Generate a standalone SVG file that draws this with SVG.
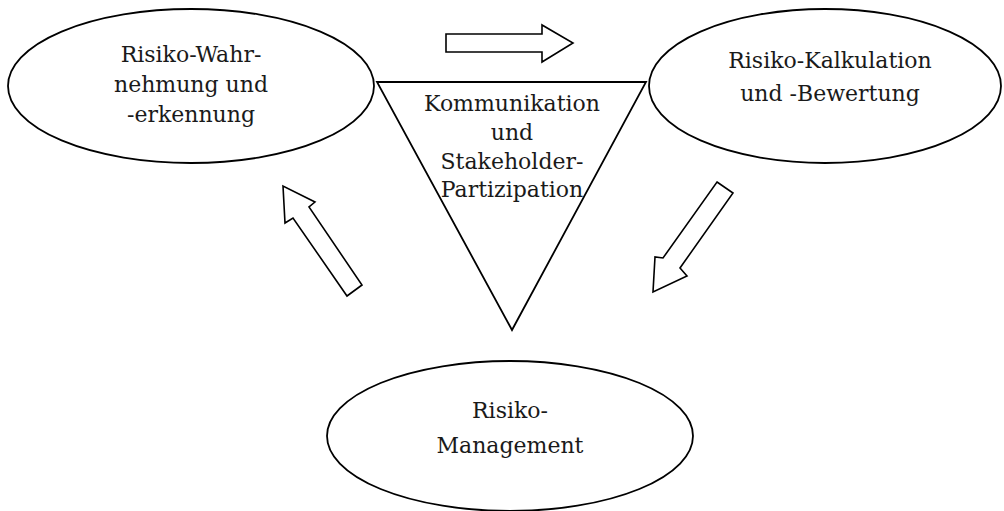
<svg xmlns="http://www.w3.org/2000/svg" width="1004" height="511" viewBox="0 0 1004 511">
  <style>
    .shape { fill: #ffffff; stroke: #000000; stroke-width: 1.8; stroke-linejoin: miter; }
    .arrow { fill: #ffffff; stroke: #000000; stroke-width: 1.6; stroke-linejoin: miter; }
    .label { font-family: "DejaVu Serif", "Liberation Serif", serif; font-size: 22px; fill: #1a1a1a; text-anchor: middle; }
  </style>
  <rect width="1004" height="511" fill="#ffffff"/>

  <!-- central triangle -->
  <g id="kommunikation">
    <polygon class="shape" points="377,82 646,82 512,330"/>
    <text class="label" x="512" y="111">Kommunikation</text>
    <text class="label" x="512" y="140">und</text>
    <text class="label" x="512" y="169">Stakeholder-</text>
    <text class="label" x="512" y="197">Partizipation</text>
  </g>

  <g id="wahrnehmung">
    <ellipse class="shape" cx="191" cy="86" rx="183" ry="77"/>
    <text class="label" x="191" y="62">Risiko-Wahr-</text>
    <text class="label" x="191" y="92">nehmung und</text>
    <text class="label" x="191" y="122">-erkennung</text>
  </g>

  <g id="kalkulation">
    <ellipse class="shape" cx="825" cy="86" rx="176" ry="77"/>
    <text class="label" x="830" y="68">Risiko-Kalkulation</text>
    <text class="label" x="830" y="101">und -Bewertung</text>
  </g>

  <g id="management">
    <ellipse class="shape" cx="510" cy="436" rx="183" ry="75"/>
    <text class="label" x="510" y="418">Risiko-</text>
    <text class="label" x="510" y="453">Management</text>
  </g>

  <!-- block arrows of the cycle -->
  <g id="connectors">
    <polygon class="arrow" points="446,34 542,34 542,25 573,43 542,62 542,52 446,52"/>
    <polygon class="arrow" points="717,182 733,193 680,268 687,276 653,292 655,257 663,258"/>
    <polygon class="arrow" points="362,285 347,296 293,218 285,223 283,186 315,202 309,207"/>
  </g>
</svg>
